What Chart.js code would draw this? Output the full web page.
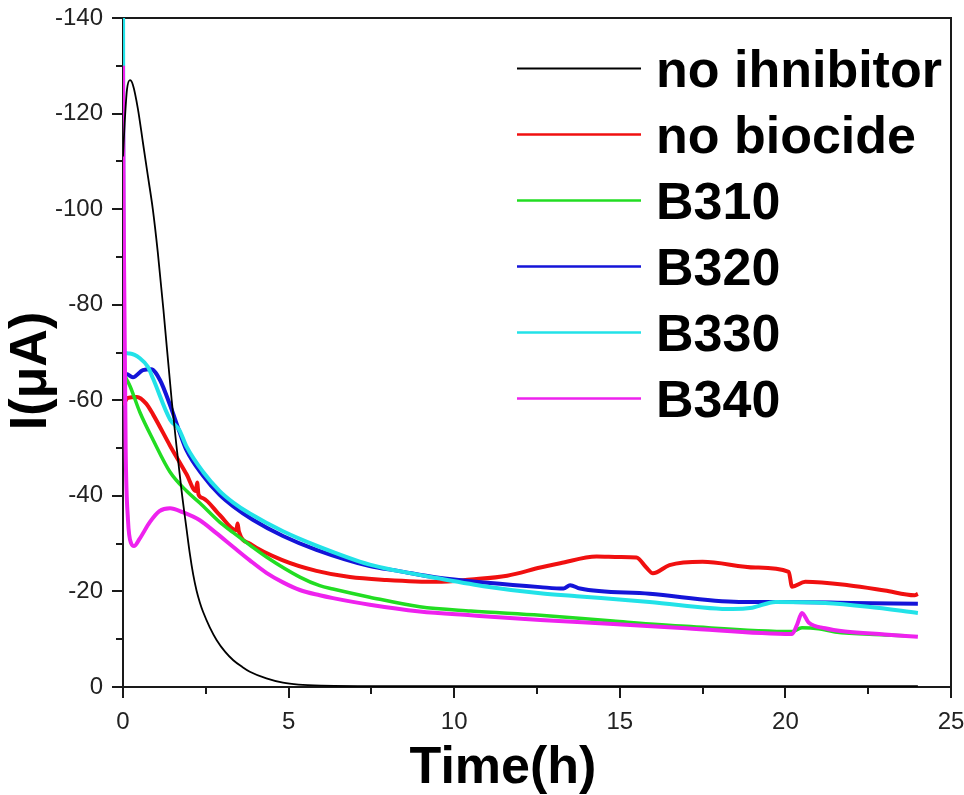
<!DOCTYPE html>
<html>
<head>
<meta charset="utf-8">
<script src="https://cdn.jsdelivr.net/npm/chart.js@4.4.1/dist/chart.umd.min.js"></script>
<style>
  html, body { margin: 0; padding: 0; background: #fff; }
</style>
</head>
<body>
<canvas id="chart" width="964" height="795"></canvas>
<script>
// series names, as printed in the legend
const seriesNames = ['no ihnibitor', 'no biocide', 'B310', 'B320', 'B330', 'B340'];
const seriesColors = ['#000000', '#f01010', '#22dd22', '#1414d8', '#22e2e8', '#ee22ee'];

// tick labels
const xTickLabels = [0, 5, 10, 15, 20, 25];
const yTickLabels = [-140, -120, -100, -80, -60, -40, -20, 0];

// no ihnibitor
const noInhibitorTime = [0, 0.05, 0.12, 0.21, 0.3, 0.45, 0.6, 0.75, 0.9, 1.05, 1.22, 1.47, 1.77, 1.92, 2.02, 2.12, 2.22, 2.32, 2.42, 2.62, 2.83, 3.08, 3.33, 3.6, 3.83, 4.33, 4.83, 5.3, 6, 8, 10, 15, 20, 24];
const noInhibitorCurrent = [-111, -118, -125, -127, -126, -121, -114, -107, -100, -91, -79, -60, -41, -33, -27.8, -23.5, -20.2, -17.7, -15.7, -12.5, -9.8, -7.4, -5.6, -4.2, -3.2, -1.8, -0.9, -0.5, -0.3, -0.2, -0.2, -0.2, -0.2, -0.2];

// no biocide
const noBiocideTime = [0, 0.15, 0.42, 0.7, 0.91, 1.42, 1.92, 2.2, 2.24, 2.28, 2.42, 2.92, 3.42, 3.46, 3.5, 3.83, 4.83, 5.84, 6.85, 7.96, 9.47, 10.5, 11.6, 12.6, 13.2, 14.3, 15.0, 15.5, 15.8, 16.0, 16.5, 17.5, 19.1, 20.1, 20.2, 20.6, 21.9, 23, 23.9, 24];
const noBiocideCurrent = [-59, -60.5, -60.7, -59.3, -57, -50.5, -44.5, -41, -42.8, -40.3, -39.5, -36, -32.8, -34.2, -32.5, -30, -26.5, -24.3, -23, -22.4, -22, -22.5, -23.3, -25, -25.9, -27.3, -27.2, -27.1, -25, -23.8, -25.5, -26.2, -25.0, -24.1, -21.0, -22.0, -21.3, -20.2, -19.2, -19.5];

// B310
const b310Time = [0, 0.1, 0.21, 0.51, 0.91, 1.42, 1.92, 2.32, 2.92, 3.33, 3.83, 4.33, 5.34, 5.94, 6.34, 7.45, 8.96, 10.5, 12.6, 14.8, 17, 20.2, 20.5, 21, 21.5, 23, 23.6];
const b310Current = [-66, -64.5, -63, -57.5, -51.7, -45, -41, -38.5, -34.5, -32.3, -29.7, -27.2, -23, -21.2, -20.5, -18.8, -16.8, -15.9, -15, -13.8, -12.7, -11.6, -12.4, -12.2, -11.5, -10.9, -10.7];

// B320
const b320Time = [0, 0.1, 0.3, 0.6, 0.85, 1.12, 1.42, 1.7, 1.92, 2.42, 2.92, 3.33, 3.92, 4.83, 5.84, 7.45, 8.3, 9.47, 11, 12.6, 13.3, 13.5, 13.8, 15.9, 18.6, 20.2, 22, 24];
const b320Current = [-64, -65.5, -64.8, -66.3, -66.5, -64.2, -59, -53.5, -49.5, -44.2, -40.2, -37.8, -35, -31.6, -28.7, -25.3, -24.3, -22.9, -21.8, -20.9, -20.6, -21.3, -20.6, -19.5, -17.8, -17.8, -17.6, -17.4];

// B330
const b330Time = [0, 0.02, 0.05, 0.21, 0.51, 0.75, 0.91, 1.42, 1.7, 1.92, 2.42, 2.92, 3.33, 3.83, 4.83, 5.84, 7.45, 8.3, 9.47, 11, 12.6, 13.7, 15.9, 18.4, 19, 19.7, 21.2, 22.5, 24];
const b330Current = [-150, -74, -70, -69.8, -68.8, -67, -64.5, -56, -53.8, -50.3, -45, -41, -38.6, -36.3, -32.6, -29.6, -25.6, -24.3, -22.8, -21, -19.6, -19, -17.8, -16.3, -16.6, -17.8, -17.6, -16.8, -15.5];

// B340
const b340Time = [0, 0.03, 0.08, 0.15, 0.25, 0.33, 0.5, 0.81, 1.1, 1.42, 1.8, 2.32, 2.8, 3.33, 3.83, 4.33, 4.83, 5.34, 5.94, 6.34, 7.45, 8.96, 10.5, 12.6, 14.8, 17, 20.2, 20.35, 20.5, 20.7, 21.2, 21.8, 23, 24];
const b340Current = [-130, -90, -50, -35, -30, -29.5, -31, -34.5, -36.8, -37.4, -36.6, -34.9, -32.3, -29.3, -26.5, -23.9, -21.9, -20.3, -19.2, -18.6, -17.2, -15.8, -15, -14, -13.2, -12.3, -11.1, -13, -15.5, -13.5, -12.3, -11.6, -11, -10.5];

const times = [noInhibitorTime, noBiocideTime, b310Time, b320Time, b330Time, b340Time];
const currents = [noInhibitorCurrent, noBiocideCurrent, b310Current, b320Current, b330Current, b340Current];
const widths = [1.8, 4, 3.5, 4, 4, 4];
const drawOrder = [0, 5, 4, 3, 2, 1];  // black on top, then magenta, cyan ...

const axisColor = '#1a1a1a';
const fontFamily = '"Liberation Sans", Arial, Helvetica, sans-serif';

const framePlugin = {
  id: 'frame',
  beforeDatasetsDraw(chart) {
    const { ctx, chartArea: a, scales: { x, y } } = chart;
    ctx.save();
    ctx.strokeStyle = axisColor;
    ctx.lineWidth = 2;
    ctx.strokeRect(a.left, a.top, a.right - a.left, a.bottom - a.top);
    ctx.beginPath();
    x.ticks.forEach(t => {
      const px = Math.round(x.getPixelForValue(t.value));
      const len = xTickLabels.includes(t.value) ? 11 : 7;
      ctx.moveTo(px, a.bottom);
      ctx.lineTo(px, a.bottom + len);
    });
    y.ticks.forEach(t => {
      const py = Math.round(y.getPixelForValue(t.value));
      const len = yTickLabels.includes(t.value) ? 11 : 7;
      ctx.moveTo(a.left, py);
      ctx.lineTo(a.left - len, py);
    });
    ctx.stroke();
    ctx.restore();
  },
  afterDraw(chart) {
    const { ctx } = chart;
    ctx.save();
    ctx.fillStyle = '#000';
    ctx.font = 'bold 52px ' + fontFamily;
    ctx.textBaseline = 'alphabetic';

    // axis titles
    ctx.textAlign = 'center';
    ctx.fillText('Time(h)', 503, 783);
    ctx.save();
    ctx.translate(46, 371);
    ctx.rotate(-Math.PI / 2);
    ctx.fillText('I(\u03bcA)', 0, 0);
    ctx.restore();

    // legend
    ctx.textAlign = 'left';
    chart.data.datasets.forEach((ds, i) => {
      const ly = 68.5 + 66 * i;
      ctx.strokeStyle = ds.borderColor;
      ctx.lineWidth = i === 0 ? 2 : 2.6;
      ctx.beginPath();
      ctx.moveTo(517, ly);
      ctx.lineTo(641, ly);
      ctx.stroke();
      ctx.fillText(ds.label, 656, ly + 18.5);
    });
    ctx.restore();
  }
};

const datasets = seriesNames.map((name, i) => ({
  label: name,
  data: times[i].map((t, j) => ({ x: t, y: currents[i][j] })),
  borderColor: seriesColors[i],
  borderWidth: widths[i],
  pointRadius: 0,
  cubicInterpolationMode: 'monotone',
  fill: false,
  order: drawOrder[i]
}));

new Chart(document.getElementById('chart'), {
  type: 'line',
  data: { datasets },
  plugins: [framePlugin],
  options: {
    responsive: false,
    animation: false,
    layout: { padding: { top: 18, right: 13, left: 0, bottom: 0 } },
    plugins: { legend: { display: false }, tooltip: { enabled: false } },
    scales: {
      x: {
        type: 'linear',
        min: 0,
        max: 25,
        grid: { display: false, drawTicks: false },
        border: { display: false },
        ticks: {
          stepSize: 2.5,
          autoSkip: false,
          maxRotation: 0,
          padding: 21,
          color: '#222',
          font: { family: fontFamily, size: 24 },
          callback: v => xTickLabels.includes(v) ? String(v) : ''
        },
        afterFit: s => { s.height = 108; s.paddingLeft = 0; s.paddingRight = 0; }
      },
      y: {
        type: 'linear',
        min: -140,
        max: 0,
        reverse: true,
        grid: { display: false, drawTicks: false },
        border: { display: false },
        ticks: {
          stepSize: 10,
          autoSkip: false,
          padding: 20,
          color: '#222',
          font: { family: fontFamily, size: 24 },
          callback: v => yTickLabels.includes(v) ? String(v) : ''
        },
        afterFit: s => { s.width = 123; s.paddingTop = 0; s.paddingBottom = 0; }
      }
    }
  }
});
</script>
</body>
</html>
